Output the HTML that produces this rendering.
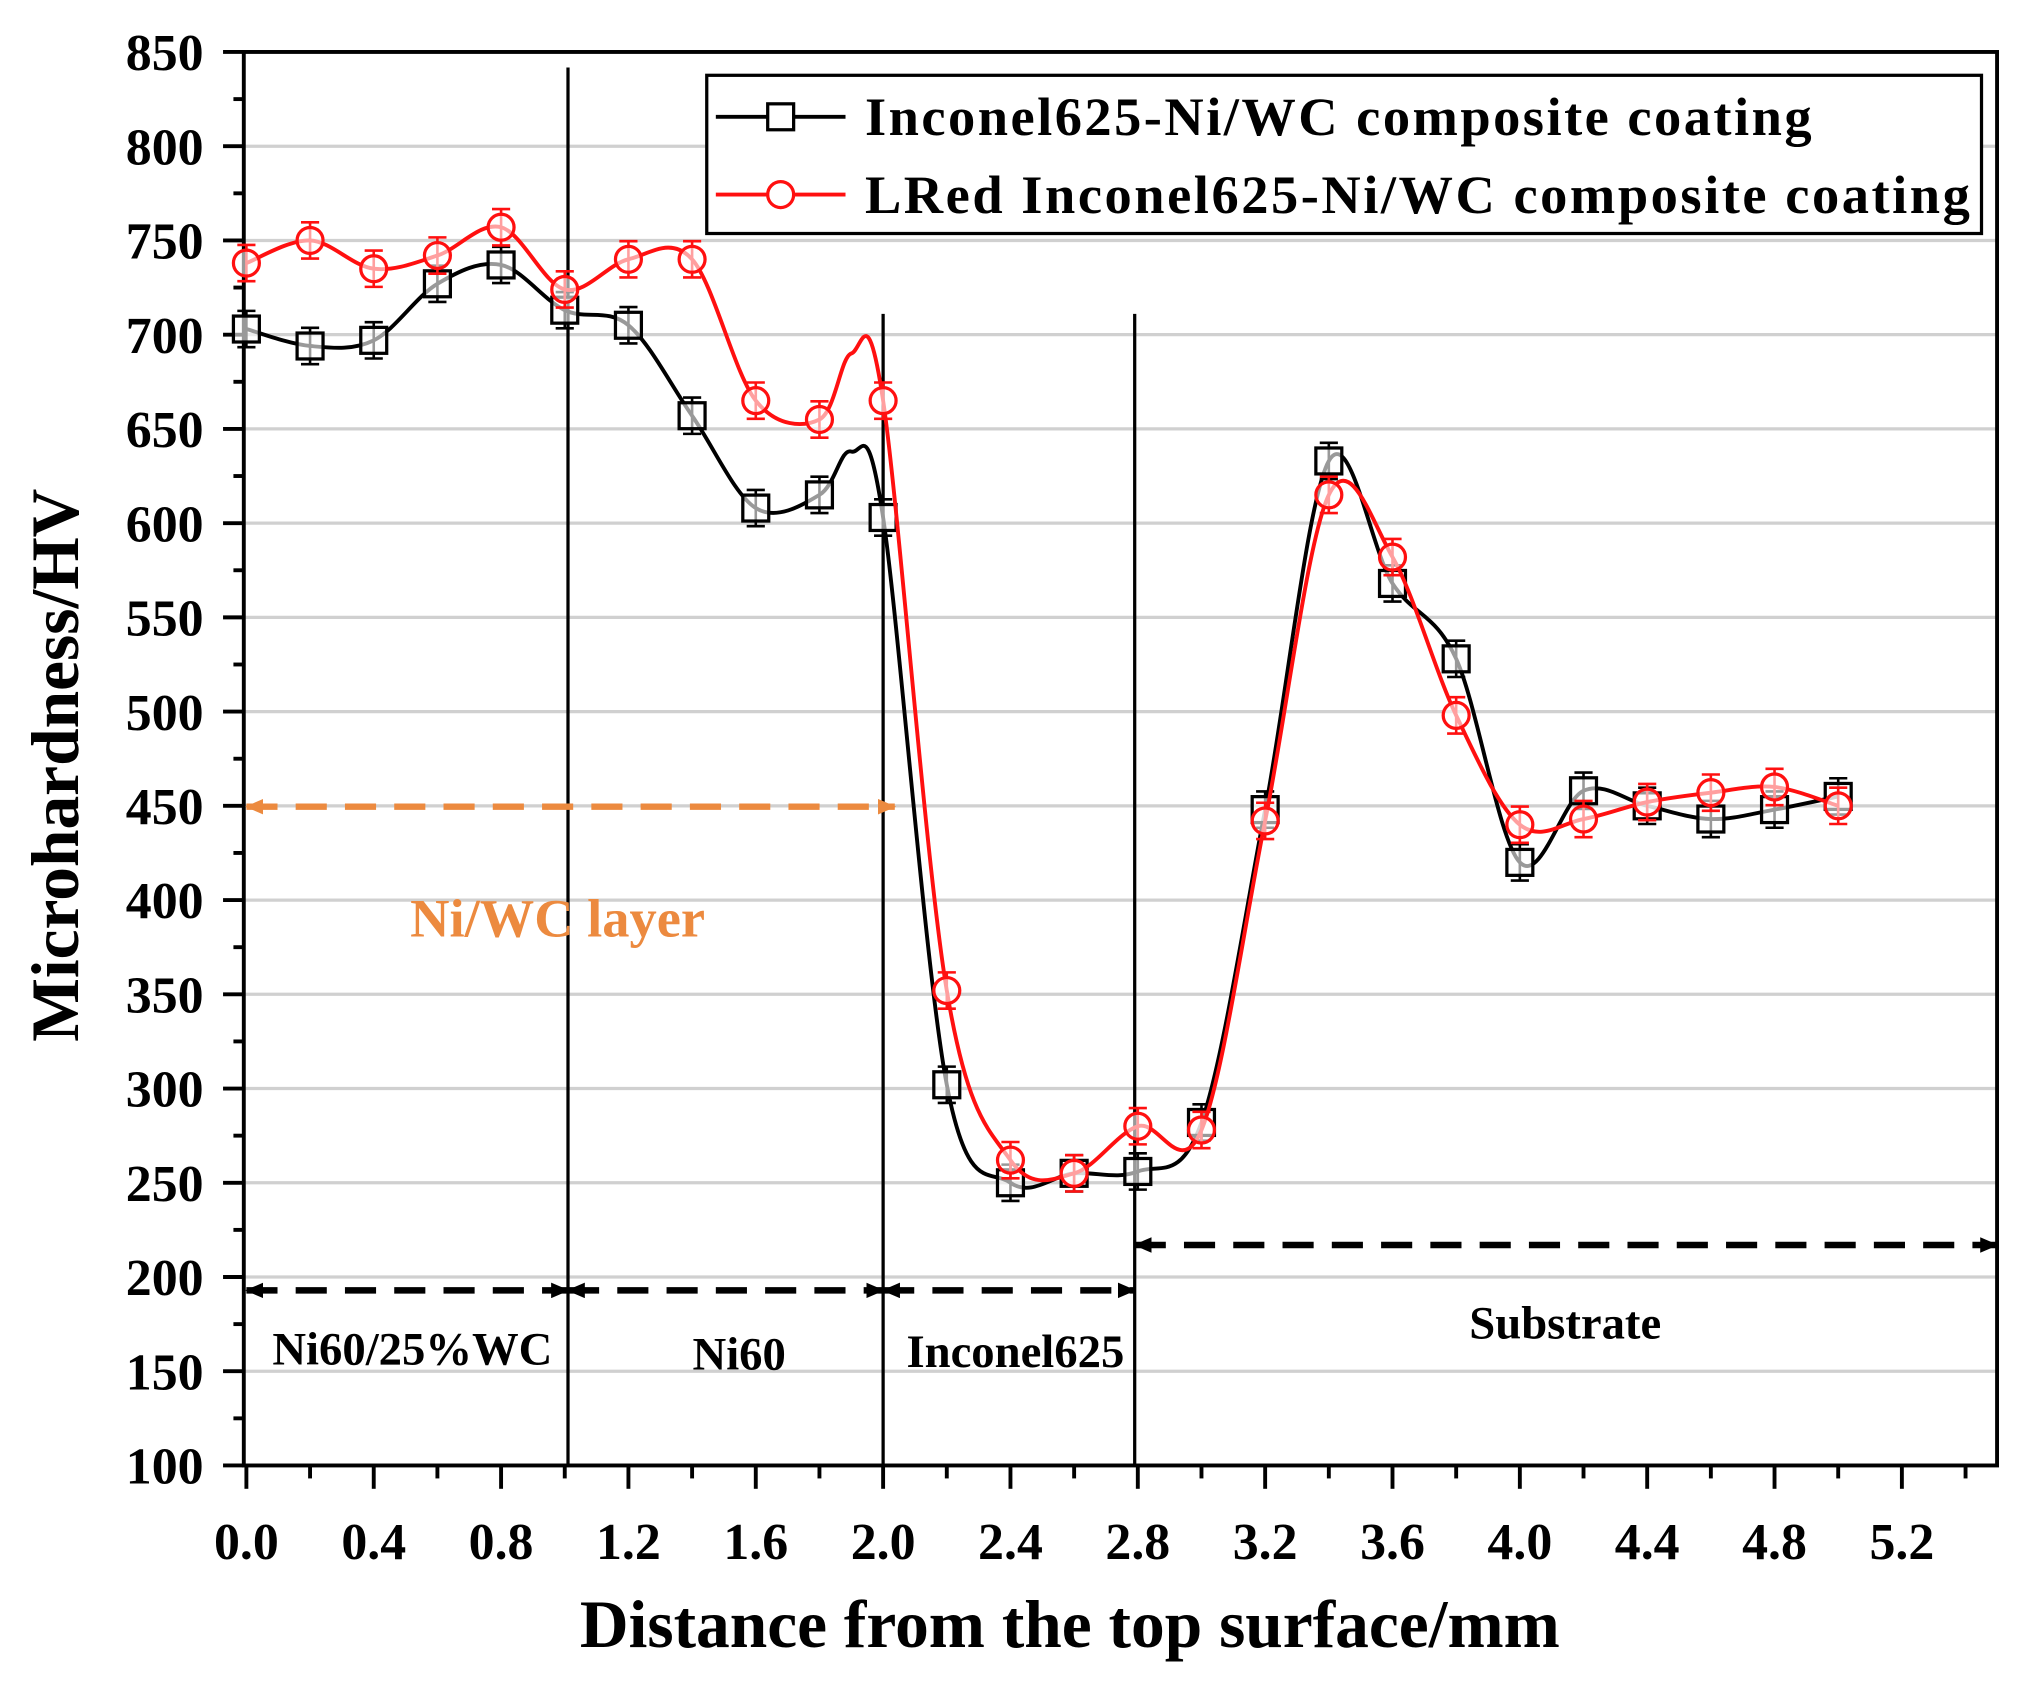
<!DOCTYPE html>
<html><head><meta charset="utf-8"><style>html,body{margin:0;padding:0;background:#fff}svg{display:block}</style></head>
<body>
<svg id="s" xmlns="http://www.w3.org/2000/svg" width="2023" height="1686" viewBox="0 0 1560 1300" font-family="Liberation Serif, serif" font-weight="bold">
<defs>
<marker id="ab" markerWidth="14" markerHeight="12" refX="13" refY="6" orient="auto-start-reverse" markerUnits="userSpaceOnUse"><path d="M0,0 L14,6 L0,12 z" fill="#000"/></marker>
<marker id="ao" markerWidth="14" markerHeight="12" refX="13" refY="6" orient="auto-start-reverse" markerUnits="userSpaceOnUse"><path d="M0,0 L14,6 L0,12 z" fill="#ec8a3f"/></marker>
</defs>
</svg>
<script>
const s=document.getElementById('s'),NS='http://www.w3.org/2000/svg';
function el(t,a,txt){const e=document.createElementNS(NS,t);for(const k in a)e.setAttribute(k,a[k]);if(txt!==undefined)e.textContent=txt;s.appendChild(e);return e;}
const X=d=>190+d*245.5, Y=v=>1130-(v-100)*1.4533;
for(let v=150;v<=800;v+=50) el('line',{x1:188,x2:1540,y1:Y(v),y2:Y(v),stroke:'#d0d0d0','stroke-width':2.5});
el('rect',{x:188,y:40,width:1352,height:1090,fill:'none',stroke:'#000','stroke-width':3});
for(let v=100;v<=850;v+=25){const maj=v%50==0;el('line',{x1:maj?172:180,x2:188,y1:Y(v),y2:Y(v),stroke:'#000','stroke-width':3});
 if(maj) el('text',{x:157,y:Y(v)+14,'font-size':40,'text-anchor':'end'},v);}
for(let i=0;i<=27;i++){const d=i*0.2,maj=i%2==0;const x=X(d);if(x>1541)break;
 el('line',{x1:x,x2:x,y1:1130,y2:maj?1148:1140,stroke:'#000','stroke-width':3});
 if(maj&&i<=26) el('text',{x:x,y:1202,'font-size':40,'text-anchor':'middle'},d.toFixed(1));}
el('text',{x:825,y:1270,'font-size':52,'text-anchor':'middle'},'Distance from the top surface/mm');
el('text',{x:0,y:0,'font-size':52,'text-anchor':'middle',transform:'translate(60,590) rotate(-90)'},'Microhardness/HV');
el('line',{x1:438,x2:438,y1:52,y2:1130,stroke:'#000','stroke-width':2.5});
el('line',{x1:681,x2:681,y1:242,y2:1130,stroke:'#000','stroke-width':2.5});
el('line',{x1:875,x2:875,y1:242,y2:1130,stroke:'#000','stroke-width':2.5});
function arr(x1,x2,y,c,m){el('line',{x1:x1,x2:x2,y1:y,y2:y,stroke:c,'stroke-width':5,'stroke-dasharray':'24 14','marker-start':m,'marker-end':m});}
arr(190,438,995,'#000','url(#ab)');arr(438,681,995,'#000','url(#ab)');arr(681,875,995,'#000','url(#ab)');arr(875,1540,960,'#000','url(#ab)');
arr(190,690,622,'#ec8a3f','url(#ao)');
el('text',{x:430,y:722,'font-size':42,fill:'#ec8a3f','text-anchor':'middle'},'Ni/WC layer');
el('text',{x:318,y:1052,'font-size':36,'text-anchor':'middle'},'Ni60/25%WC');
el('text',{x:570,y:1056,'font-size':36,'text-anchor':'middle'},'Ni60');
el('text',{x:783,y:1054,'font-size':36,'text-anchor':'middle'},'Inconel625');
el('text',{x:1207,y:1032,'font-size':36,'text-anchor':'middle'},'Substrate');
const xs=[0,.2,.4,.6,.8,1,1.2,1.4,1.6,1.8,2,2.2,2.4,2.6,2.8,3,3.2,3.4,3.6,3.8,4,4.2,4.4,4.6,4.8,5];
const bk=[703,694,697,727,737,713,705,657,608,615,603,302,250,255,256,282,448,633,568,528,420,458,450,443,448,455];
const rd=[738,750,735,742,757,724,740,740,665,655,665,352,262,255,280,278,442,615,582,498,440,443,452,457,460,450];
function curve(pts){let d='M'+pts[0][0]+','+pts[0][1];for(let i=0;i<pts.length-1;i++){const p0=pts[Math.max(0,i-1)],p1=pts[i],p2=pts[i+1],p3=pts[Math.min(pts.length-1,i+2)];
 d+=` C${p1[0]+(p2[0]-p0[0])/6},${p1[1]+(p2[1]-p0[1])/6} ${p2[0]-(p3[0]-p1[0])/6},${p2[1]-(p3[1]-p1[1])/6} ${p2[0]},${p2[1]}`;}return d;}
function series(vals,c,extra,sym){const p=xs.map((x,i)=>[X(x),Y(vals[i])]);const q=p.slice();q.splice(10,0,[X(1.9),Y(extra)]);
 el('path',{d:curve(q),fill:'none',stroke:c,'stroke-width':3});
 p.forEach(([x,y])=>{el('line',{x1:x,x2:x,y1:y-14,y2:y+14,stroke:c,'stroke-width':2});el('line',{x1:x-7,x2:x+7,y1:y-14,y2:y-14,stroke:c,'stroke-width':2});el('line',{x1:x-7,x2:x+7,y1:y+14,y2:y+14,stroke:c,'stroke-width':2});
  if(sym=='s')el('rect',{x:x-10,y:y-10,width:20,height:20,fill:'#fff','fill-opacity':0.6,stroke:c,'stroke-width':2.5});else el('circle',{cx:x,cy:y,r:10,fill:'#fff','fill-opacity':0.6,stroke:c,'stroke-width':2.5});});}
series(bk,'#000',638,'s');series(rd,'#ff1010',690,'o');
el('rect',{x:545,y:58,width:983,height:122,fill:'#fff',stroke:'#000','stroke-width':2.5});
el('line',{x1:552,x2:652,y1:90,y2:90,stroke:'#000','stroke-width':3});el('rect',{x:592,y:80,width:20,height:20,fill:'#fff',stroke:'#000','stroke-width':2.5});
el('line',{x1:552,x2:652,y1:150,y2:150,stroke:'#ff1010','stroke-width':3});el('circle',{cx:602,cy:150,r:10,fill:'#fff',stroke:'#ff1010','stroke-width':2.5});
el('text',{x:667,y:104,'font-size':42,textLength:730},'Inconel625-Ni/WC composite coating');
el('text',{x:667,y:164,'font-size':42,textLength:852},'LRed Inconel625-Ni/WC composite coating');
</script>
</body></html>
